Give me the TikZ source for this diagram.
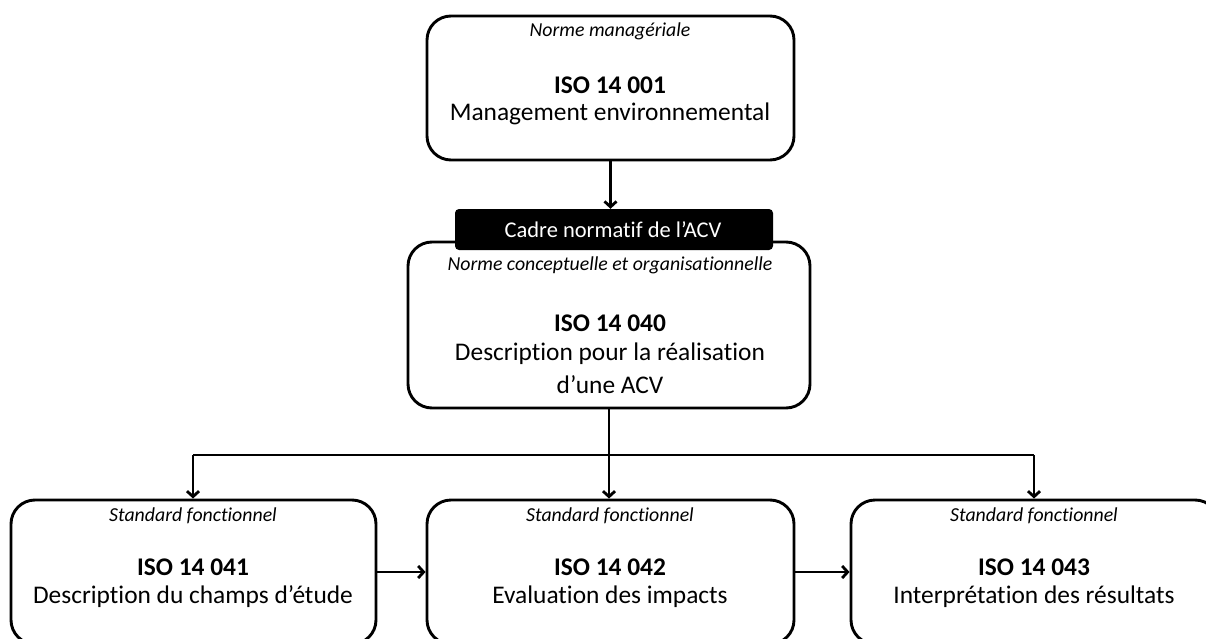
\documentclass[tikz,border=0pt]{standalone}
\usepackage{fontspec}
\setmainfont{Carlito}[Ligatures={NoCommon}]
\usetikzlibrary{arrows.meta}
\tikzset{
  box/.style={draw=black, line width=2.9pt, rounded corners=24pt, fill=white, inner sep=0pt},
  tabbox/.style={fill=black, rounded corners=4pt, inner sep=0pt, minimum width=318pt, minimum height=41pt},
  it/.style={font=\fontsize{19.8}{23}\selectfont\itshape, inner sep=0pt},
  iso/.style={font=\fontsize{25.4}{30}\selectfont\bfseries, inner sep=0pt},
  desc/.style={font=\fontsize{25.4}{30}\selectfont, inner sep=0pt},
  conn/.style={line width=2.8pt, -{Straight Barb[length=5.5pt,width=12pt,line width=2.8pt]}},
  seg/.style={line width=2.8pt}
}
\begin{document}
\begin{tikzpicture}[x=1pt,y=-1pt]
\useasboundingbox (0,0) rectangle (1206,639);
% top box
\node[box, minimum width=367pt, minimum height=144pt] (top) at (610.5,88) {};
\node[it] (topit) at (610,31) {Norme managériale};
\node[iso] (topiso) at (610,85) {ISO 14 001};
\node[desc] (topdesc) at (610,114) {Management environnemental};
% middle box
\node[box, minimum width=402pt, minimum height=166pt] (mid) at (609,325) {};
\node[tabbox] (tab) at (614,229.5) {};
\node[font=\fontsize{22.5}{26}\selectfont, text=white, inner sep=0pt] (tabtxt) at (613,230) {Cadre normatif de l’ACV};
\node[it] (midit) at (610,265) {Norme conceptuelle et organisationnelle};
\node[iso] (midiso) at (610,323) {ISO 14 040};
\node[desc] (middesc1) at (610,354) {Description pour la réalisation};
\node[desc] (middesc2) at (610,385) {d’une ACV};
% bottom boxes
\node[box, minimum width=365pt, minimum height=144pt] (b1) at (193.5,572) {};
\node[box, minimum width=367pt, minimum height=144pt] (b2) at (610.5,572) {};
\node[box, minimum width=368pt, minimum height=144pt] (b3) at (1035,572) {};
\node[it] (b1it) at (193,516) {Standard fonctionnel};
\node[iso] (b1iso) at (193,567) {ISO 14 041};
\node[desc] (b1desc) at (193,597) {Description du champs d’étude};
\node[it] (b2it) at (610,516) {Standard fonctionnel};
\node[iso] (b2iso) at (610,567) {ISO 14 042};
\node[desc] (b2desc) at (610,597) {Evaluation des impacts};
\node[it] (b3it) at (1034,516) {Standard fonctionnel};
\node[iso] (b3iso) at (1034,567) {ISO 14 043};
\node[desc] (b3desc) at (1034,597) {Interprétation des résultats};
% connectors
\draw[conn] (top.south) -- (tab.north -| top.south);
\coordinate (split) at (609,455);
\coordinate (sl) at (193,455);
\coordinate (sr) at (1034,455);
\draw[seg] (mid.south) -- (split);
\draw[seg] (sl) -- (sr);
\draw[conn] (sl) -- (sl |- b1.north);
\draw[conn] (split) -- (split |- b2.north);
\draw[conn] (sr) -- (sr |- b3.north);
\draw[conn] (b1.east) -- (b2.west);
\draw[conn] (b2.east) -- (b3.west);
\end{tikzpicture}
\end{document}
